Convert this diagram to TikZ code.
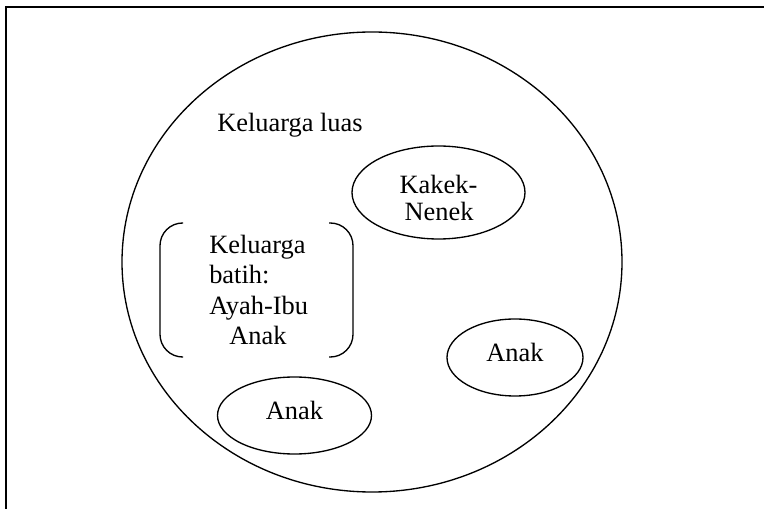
\documentclass[tikz,border=0pt]{standalone}
\usepackage{fontspec}
\setmainfont{Liberation Serif}
\usetikzlibrary{shapes.geometric}
\begin{document}
\begin{tikzpicture}[x=0.75pt,y=-0.75pt,
  ring/.style={draw, ellipse, line width=1pt, inner sep=0pt},
  txt/.style={inner sep=0pt, font=\fontsize{19.8}{23}\selectfont},
  bracket/.style={line width=1pt, rounded corners=17pt}]
\useasboundingbox (0,0) rectangle (764,509);
% frame
\coordinate (fbl) at (6,512);
\coordinate (ftl) at (6,6.7);
\coordinate (ftr) at (767,6.7);
\draw[line width=1.5pt] (fbl) -- (ftl) -- (ftr);
% big ellipse
\node[ring, minimum width=375pt, minimum height=345pt] (luas) at (372,262) {};
\node[txt, anchor=base west] (luastxt) at (217,132) {Keluarga luas};
% Kakek-Nenek
\node[ring, minimum width=129.75pt, minimum height=69.75pt] (kakek) at (438.5,192.5) {};
\node[txt, anchor=base] (kakek1) at (438.5,194) {Kakek-};
\node[txt, anchor=base] (kakek2) at (439,221) {Nenek};
% Anak right
\node[ring, minimum width=102pt, minimum height=57.75pt] (anak1) at (515,357.5) {};
\node[txt, anchor=base] (anak1t) at (515,362) {Anak};
% Anak bottom
\node[ring, minimum width=115.5pt, minimum height=57.75pt] (anak2) at (294.5,415.5) {};
\node[txt, anchor=base] (anak2t) at (294.5,420) {Anak};
% Keluarga batih
\node[txt, anchor=base west] (b1) at (209,253.3) {Keluarga};
\node[txt, anchor=base west] (b2) at (209,284) {batih:};
\node[txt, anchor=base west] (b3) at (209,314.5) {Ayah-Ibu};
\node[txt, anchor=base west] (b4) at (229,345) {Anak};
\coordinate (lb1) at (183,223);
\coordinate (lb2) at (160,223);
\coordinate (lb3) at (160,357);
\coordinate (lb4) at (183,357);
\coordinate (rb1) at (329,223);
\coordinate (rb2) at (353,223);
\coordinate (rb3) at (353,357);
\coordinate (rb4) at (329,357);
\draw[bracket] (lb1) -- (lb2) -- (lb3) -- (lb4);
\draw[bracket] (rb1) -- (rb2) -- (rb3) -- (rb4);
\end{tikzpicture}
\end{document}
